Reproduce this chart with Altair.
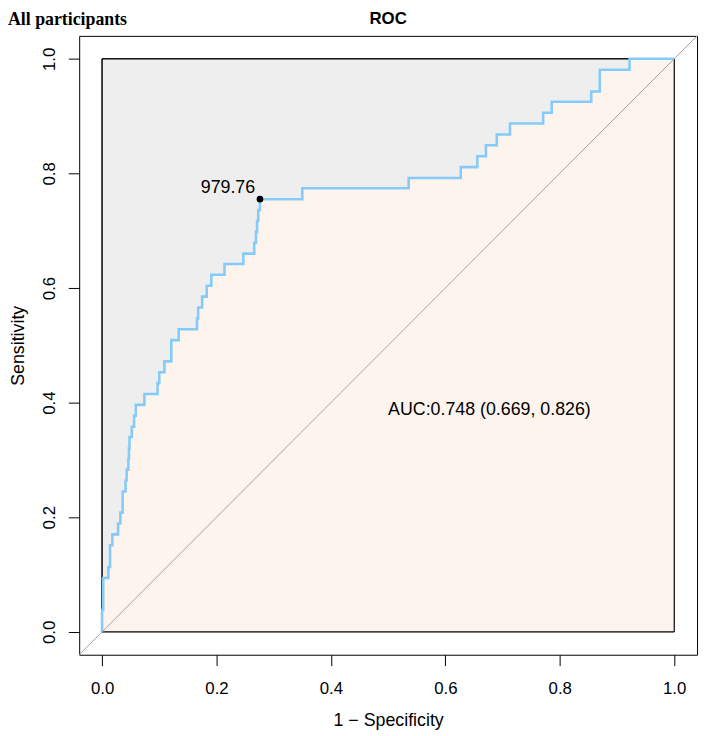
import altair as alt
import pandas as pd

# ROC curve vertices (1 - specificity, sensitivity)
fpr = [0.000, 0.000, 0.002, 0.002, 0.011, 0.011, 0.014, 0.014, 0.018, 0.018,
       0.028, 0.028, 0.032, 0.032, 0.036, 0.036, 0.041, 0.041, 0.043, 0.043,
       0.046, 0.046, 0.047, 0.047, 0.048, 0.048, 0.052, 0.052, 0.056, 0.056,
       0.059, 0.059, 0.074, 0.074, 0.097, 0.097, 0.100, 0.100, 0.109, 0.109,
       0.121, 0.121, 0.134, 0.134, 0.166, 0.166, 0.168, 0.168, 0.175, 0.175,
       0.183, 0.183, 0.191, 0.191, 0.214, 0.214, 0.247, 0.247, 0.266, 0.266,
       0.269, 0.269, 0.271, 0.271, 0.273, 0.273, 0.276, 0.276, 0.350, 0.350,
       0.536, 0.536, 0.627, 0.627, 0.656, 0.656, 0.671, 0.671, 0.690, 0.690,
       0.713, 0.713, 0.771, 0.771, 0.786, 0.786, 0.855, 0.855, 0.870, 0.870,
       0.922, 0.922, 1.000]
tpr = [0.000, 0.038, 0.038, 0.094, 0.094, 0.113, 0.113, 0.151, 0.151, 0.170,
       0.170, 0.189, 0.189, 0.208, 0.208, 0.245, 0.245, 0.264, 0.264, 0.283,
       0.283, 0.302, 0.302, 0.321, 0.321, 0.340, 0.340, 0.358, 0.358, 0.377,
       0.377, 0.396, 0.396, 0.415, 0.415, 0.434, 0.434, 0.453, 0.453, 0.472,
       0.472, 0.509, 0.509, 0.528, 0.528, 0.547, 0.547, 0.566, 0.566, 0.585,
       0.585, 0.604, 0.604, 0.623, 0.623, 0.642, 0.642, 0.660, 0.660, 0.679,
       0.679, 0.698, 0.698, 0.717, 0.717, 0.736, 0.736, 0.755, 0.755, 0.774,
       0.774, 0.792, 0.792, 0.811, 0.811, 0.830, 0.830, 0.849, 0.849, 0.868,
       0.868, 0.887, 0.887, 0.906, 0.906, 0.925, 0.925, 0.943, 0.943, 0.981,
       0.981, 1.000, 1.000]

# best threshold point and its label
thr_x = [0.276]
thr_y = [0.755]
thr_label = ["979.76"]
thr_label_x = [0.220]
thr_label_y = [0.766]

# AUC annotation
auc_text = ["AUC:0.748 (0.669, 0.826)"]
auc_x = [0.5]
auc_y = [0.379]

# reference square and diagonal
box_x0, box_x1, box_y0, box_y1 = [0.0], [1.0], [0.0], [1.0]
diag_x = [-0.04, 1.04]
diag_y = [-0.04, 1.04]

ticks = [0.0, 0.2, 0.4, 0.6, 0.8, 1.0]

roc = pd.DataFrame({"fpr": fpr, "tpr": tpr, "idx": list(range(len(fpr)))})
box = pd.DataFrame({"x0": box_x0, "x1": box_x1, "y0": box_y0, "y1": box_y1})
diag = pd.DataFrame({"x": diag_x, "y": diag_y})
thr = pd.DataFrame({"x": thr_x, "y": thr_y})
thr_lab = pd.DataFrame({"x": thr_label_x, "y": thr_label_y, "t": thr_label})
auc = pd.DataFrame({"x": auc_x, "y": auc_y, "t": auc_text})

FONT = "Liberation Sans"
xs = alt.Scale(domain=[-0.04, 1.04], nice=False, zero=False)
ys = alt.Scale(domain=[-0.04, 1.04], nice=False, zero=False)

xaxis = alt.Axis(values=ticks, format=".1f", title="1 \u2212 Specificity", domain=False,
                 grid=False, tickSize=11, tickColor="black", tickWidth=1,
                 labelFont=FONT, labelFontSize=17, labelColor="black",
                 labelPadding=28, labelBaseline="alphabetic", labelFlush=False,
                 labelOverlap=False,
                 titleFont=FONT, titleFontSize=18, titleFontWeight="normal",
                 titleColor="black", titleY=72, titleBaseline="alphabetic")
yaxis = alt.Axis(values=ticks, format=".1f", title="Sensitivity", domain=False,
                 grid=False, tickSize=11, tickColor="black", tickWidth=1,
                 labelFont=FONT, labelFontSize=17, labelColor="black",
                 labelAngle=270, labelAlign="center", labelBaseline="alphabetic",
                 labelPadding=14, labelFlush=False, labelOverlap=False,
                 titleFont=FONT, titleFontSize=18, titleFontWeight="normal",
                 titleColor="black", titleX=-56, titleY=313, titleAngle=270,
                 titleAlign="center", titleBaseline="alphabetic")

grey_box = alt.Chart(box).mark_rect(fill="#EEEEEE", stroke="black", strokeWidth=1).encode(
    x=alt.X("x0:Q", scale=xs, axis=xaxis), x2="x1",
    y=alt.Y("y0:Q", scale=ys, axis=yaxis), y2="y1")

auc_area = alt.Chart(roc).mark_area(color="#FEF4EE", opacity=1, interpolate="linear").encode(
    x=alt.X("fpr:Q", scale=xs, axis=xaxis),
    y=alt.Y("tpr:Q", scale=ys, axis=yaxis),
    y2=alt.datum(0))

box_border = alt.Chart(box).mark_rect(fill=None, fillOpacity=0, stroke="black", strokeWidth=1).encode(
    x=alt.X("x0:Q", scale=xs, axis=xaxis), x2="x1",
    y=alt.Y("y0:Q", scale=ys, axis=yaxis), y2="y1")

diag_line = alt.Chart(diag).mark_line(color="#A3A3A3", strokeWidth=1).encode(
    x=alt.X("x:Q", scale=xs, axis=xaxis),
    y=alt.Y("y:Q", scale=ys, axis=yaxis))

curve = alt.Chart(roc).mark_line(color="#84CBF9", strokeWidth=2.6, strokeJoin="miter",
                                 strokeCap="butt").encode(
    x=alt.X("fpr:Q", scale=xs, axis=xaxis),
    y=alt.Y("tpr:Q", scale=ys, axis=yaxis),
    order="idx:Q")

point = alt.Chart(thr).mark_point(filled=True, color="black", size=45, opacity=1).encode(
    x=alt.X("x:Q", scale=xs, axis=xaxis),
    y=alt.Y("y:Q", scale=ys, axis=yaxis))

point_label = alt.Chart(thr_lab).mark_text(font=FONT, fontSize=18, color="black",
                                           align="center", baseline="alphabetic").encode(
    x=alt.X("x:Q", scale=xs, axis=xaxis),
    y=alt.Y("y:Q", scale=ys, axis=yaxis),
    text="t:N")

auc_label = alt.Chart(auc).mark_text(font=FONT, fontSize=18, color="black",
                                     align="left", baseline="alphabetic").encode(
    x=alt.X("x:Q", scale=xs, axis=xaxis),
    y=alt.Y("y:Q", scale=ys, axis=yaxis),
    text="t:N")

title_main = alt.Chart(pd.DataFrame({"t": ["ROC"]})).mark_text(
    font=FONT, fontSize=17, fontWeight="bold", color="black",
    align="center", baseline="alphabetic").encode(
    x=alt.value(312.5), y=alt.value(-12), text="t:N")

title_left = alt.Chart(pd.DataFrame({"t": ["All participants"]})).mark_text(
    font="Liberation Serif", fontSize=18, fontWeight="bold", color="black",
    align="left", baseline="alphabetic").encode(
    x=alt.value(-72), y=alt.value(-11), text="t:N")

chart = alt.layer(grey_box, auc_area, box_border, diag_line, curve, point,
                  point_label, auc_label, title_main, title_left).properties(
    width=625, height=626,
    autosize=alt.AutoSizeParams(type="none"),
    padding={"left": 72, "top": 24, "right": 4, "bottom": 78},
    background="white",
).configure_view(stroke="black", strokeWidth=1)

chart.save("out.html", embed_options={"renderer": "svg", "actions": False})
